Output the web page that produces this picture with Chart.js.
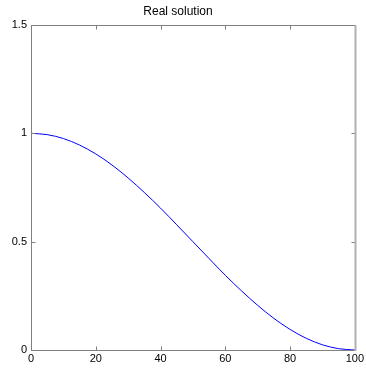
<!DOCTYPE html>
<html>
<head>
<meta charset="utf-8">
<script src="https://cdn.jsdelivr.net/npm/chart.js@4"></script>
<style>
  html, body { margin: 0; padding: 0; background: #fff; }
  #wrap { width: 366px; height: 369px; }
</style>
</head>
<body>
<div id="wrap"><canvas id="chart" width="366" height="369"></canvas></div>
<script>
// values
const xValues = [0, 5, 10, 15, 20, 25, 30, 35, 40, 45, 50, 55, 60, 65, 70, 75, 80, 85, 90, 95, 100];
const yValues = [1.0, 0.994, 0.976, 0.946, 0.905, 0.854, 0.794, 0.727, 0.655, 0.578, 0.5,
                 0.422, 0.345, 0.273, 0.206, 0.146, 0.095, 0.054, 0.024, 0.006, 0.0];
const xTicks = [0, 20, 40, 60, 80, 100];
const yTicks = [0, 0.5, 1, 1.5];

const tickFont = { family: 'Arial, "Liberation Sans", sans-serif', size: 11, weight: 'normal' };
const titleFont = { family: 'Arial, "Liberation Sans", sans-serif', size: 12, weight: 'normal' };

// box + inward tick marks like the matlab axes
const boxTicks = {
    id: 'boxTicks',
    afterDraw(chart) {
        const ctx = chart.ctx;
        const a = chart.chartArea;
        const xs = chart.scales.x, ys = chart.scales.y;
        const L = Math.round(a.left) + 0.5, R = Math.round(a.right) + 0.5;
        const T = Math.round(a.top) + 0.5, B = Math.round(a.bottom) + 0.5;
        ctx.save();
        ctx.strokeStyle = '#808080';
        ctx.lineWidth = 1;
        ctx.beginPath();
        xTicks.forEach(v => {
            const px = Math.round(xs.getPixelForValue(v)) + 0.5;
            ctx.moveTo(px, B); ctx.lineTo(px, B - 4);
            ctx.moveTo(px, T); ctx.lineTo(px, T + 4);
        });
        yTicks.forEach(v => {
            const py = Math.round(ys.getPixelForValue(v)) + 0.5;
            ctx.moveTo(L, py); ctx.lineTo(L + 4, py);
            ctx.moveTo(R, py); ctx.lineTo(R - 4, py);
        });
        ctx.moveTo(L, T); ctx.lineTo(R, T);
        ctx.moveTo(L, T); ctx.lineTo(L, B);
        ctx.lineTo(R, B);
        ctx.stroke();
        // right edge looks lighter and a bit heavier
        ctx.strokeStyle = '#b0b0b0';
        ctx.lineWidth = 2;
        ctx.beginPath();
        ctx.moveTo(R, T); ctx.lineTo(R, B);
        ctx.stroke();
        ctx.restore();
    }
};

new Chart(document.getElementById('chart'), {
    type: 'line',
    data: {
        datasets: [{
            data: xValues.map((x, i) => ({ x: x, y: yValues[i] })),
            borderColor: '#0000ff',
            borderWidth: 1,
            pointRadius: 0,
            cubicInterpolationMode: 'monotone',
            fill: false
        }]
    },
    options: {
        responsive: false,
        animation: false,
        layout: { padding: { left: 0, right: 10, top: 0, bottom: 0 } },
        plugins: {
            legend: { display: false },
            tooltip: { enabled: false },
            title: {
                display: true,
                text: 'Real solution',
                color: '#000',
                font: titleFont,
                padding: { top: 4, bottom: 6.6 }
            }
        },
        scales: {
            x: {
                type: 'linear',
                min: 0, max: 100,
                grid: { display: false, drawTicks: false },
                border: { display: false },
                ticks: { stepSize: 20, color: '#000', font: tickFont, padding: 2, maxRotation: 0 },
                afterFit(s) { s.height = 19; }
            },
            y: {
                min: 0, max: 1.5,
                grid: { display: false, drawTicks: false },
                border: { display: false },
                ticks: { stepSize: 0.5, color: '#000', font: tickFont, padding: 4,
                         callback: v => String(v) },
                afterFit(s) { s.width = 31; }
            }
        }
    },
    plugins: [boxTicks]
});
</script>
</body>
</html>
